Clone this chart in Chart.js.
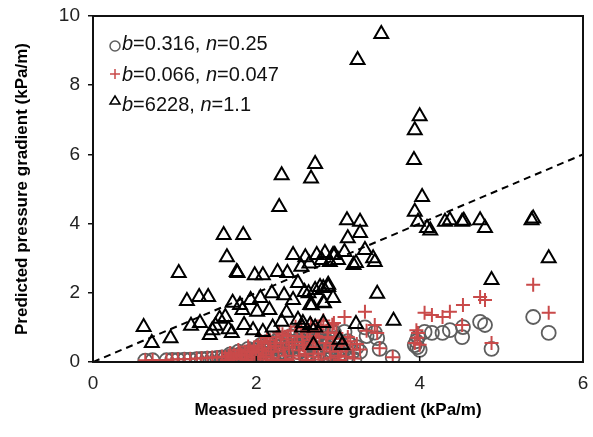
<!DOCTYPE html>
<html>
<head>
<meta charset="utf-8">
<script src="https://cdn.jsdelivr.net/npm/chart.js@4/dist/chart.umd.min.js"></script>
<style>
  html, body { margin: 0; padding: 0; background: #fff; overflow: hidden; }
  #wrap { width: 593px; height: 437px; }
</style>
</head>
<body>
<div id="wrap"><canvas id="gradientChart"></canvas></div>
<script>
// measured gradient shared by the circle (b=0.316) and cross (b=0.066) predictions
const rcMeasured = [
  0.64, 0.73, 0.90, 0.97, 1.04, 1.12, 1.19, 1.27, 1.33, 1.40, 1.46, 1.52, 1.58,
  1.62, 1.66, 1.70, 1.73, 1.76, 1.80, 1.83, 1.86, 1.89, 1.92, 1.95, 1.97, 2.00,
  2.02, 2.05, 2.07, 2.10, 2.12, 2.15, 2.17, 2.20, 2.22, 2.25, 2.27, 2.30, 2.32,
  2.35, 2.37, 2.40, 2.42, 2.45, 2.47, 2.50, 2.52, 2.55, 2.57, 2.60, 2.62, 2.65,
  2.67, 2.70, 2.72, 2.75, 2.77, 2.80, 2.82, 2.85, 2.88, 2.90, 2.93, 2.95, 2.96,
  3.00, 3.02, 3.05, 3.08, 3.12, 3.18, 3.23, 3.27, 3.33, 3.35, 3.45, 3.48, 3.51,
  3.67, 3.94, 3.96, 3.97, 3.98, 4.00, 4.06, 4.15, 4.28, 4.37, 4.52, 4.53, 4.74,
  4.80, 4.88, 5.39, 5.58,
  1.64, 1.68, 1.72, 1.78, 1.82, 1.88, 1.90, 1.94, 1.99, 2.03, 2.06, 2.09, 2.13,
  2.18, 2.21, 2.24, 2.28, 2.33, 2.36, 2.39, 2.44, 2.48, 2.53, 2.56, 2.59, 2.63,
  2.66, 2.69, 2.73, 2.76, 2.79, 2.83, 2.87, 2.91, 2.94, 2.98, 3.04, 3.10, 3.15,
  3.20
];
const circlePred = [
  0.04, 0.05, 0.05, 0.06, 0.06, 0.07, 0.07, 0.08, 0.09, 0.10, 0.10, 0.12, 0.13,
  0.12, 0.15, 0.10, 0.18, 0.14, 0.22, 0.08, 0.25, 0.17, 0.30, 0.12, 0.35, 0.22,
  0.40, 0.05, 0.28, 0.45, 0.18, 0.33, 0.52, 0.10, 0.38, 0.60, 0.25, 0.46, 0.68,
  0.15, 0.55, 0.35, 0.75, 0.08, 0.48, 0.62, 0.28, 0.80, 0.40, 0.20, 0.70, 0.52,
  0.90, 0.12, 0.35, 0.78, 0.58, 0.05, 1.00, 0.45, 0.70, 0.25, 0.88, 0.85, 0.55,
  0.15, 0.10, 0.40, 0.87, 0.60, 0.30, 0.43, 0.30, 1.00, 0.75, 0.85, 0.69, 0.38,
  0.14, 0.49, 0.60, 0.43, 0.72, 0.35, 0.87, 0.84, 0.84, 0.92, 0.72, 1.01, 1.16,
  1.07, 0.38, 1.30, 0.84,
  0.05, 0.22, 0.06, 0.30, 0.16, 0.05, 0.38, 0.24, 0.10, 0.30, 0.50, 0.12, 0.58,
  0.25, 0.05, 0.45, 0.70, 0.30, 0.05, 0.62, 0.42, 0.85, 0.15, 0.60, 0.35, 0.05,
  0.75, 0.45, 0.62, 0.20, 0.88, 0.30, 0.60, 0.10, 0.40, 0.70, 0.25, 0.12, 0.50,
  0.08
];
const crossPred = [
  0.05, 0.06, 0.06, 0.07, 0.08, 0.08, 0.09, 0.10, 0.11, 0.12, 0.13, 0.14, 0.15,
  0.14, 0.18, 0.13, 0.22, 0.17, 0.27, 0.10, 0.30, 0.21, 0.36, 0.15, 0.42, 0.27,
  0.48, 0.07, 0.33, 0.55, 0.22, 0.40, 0.63, 0.12, 0.46, 0.72, 0.30, 0.56, 0.80,
  0.18, 0.66, 0.42, 0.90, 0.10, 0.58, 0.75, 0.34, 0.97, 0.49, 0.24, 0.85, 0.63,
  1.10, 0.15, 0.42, 0.95, 0.70, 0.07, 1.20, 0.55, 0.85, 0.30, 1.08, 1.13, 0.67,
  0.18, 0.06, 0.48, 1.30, 0.72, 0.36, 0.52, 0.36, 1.45, 0.90, 1.07, 0.84, 0.40,
  0.14, 0.55, 0.92, 0.70, 0.84, 0.50, 1.42, 1.36, 1.30, 1.45, 1.07, 1.65, 1.88,
  1.79, 0.55, 2.23, 1.42,
  0.06, 0.26, 0.08, 0.35, 0.20, 0.06, 0.45, 0.29, 0.12, 0.36, 0.60, 0.15, 0.70,
  0.30, 0.06, 0.54, 0.85, 0.36, 0.06, 0.75, 0.50, 1.02, 0.18, 0.72, 0.42, 0.06,
  0.90, 0.55, 0.75, 0.24, 1.05, 0.36, 0.72, 0.12, 0.48, 0.84, 0.30, 0.15, 0.60,
  0.10
];

// b=6228, n=1.1
const triMeasured = [
  0.62, 0.72, 0.95, 1.05, 1.15, 1.30, 1.41, 1.31, 1.43, 1.20, 1.46, 1.50, 1.55,
  1.62, 1.66, 1.70, 1.85, 1.60, 1.64, 1.76, 1.84, 1.77, 1.98, 2.08, 2.26, 2.38,
  1.80, 1.71, 1.83, 2.01, 2.16, 2.37, 2.31, 2.51, 2.56, 2.72, 1.96, 2.08, 2.20,
  2.66, 2.70, 3.02, 3.05, 2.19, 2.05, 1.93, 2.34, 2.45, 2.64, 2.83, 2.68, 2.51,
  2.78, 2.88, 2.72, 2.45, 2.60, 2.74, 2.84, 2.94, 2.90, 3.00, 2.80, 2.65, 2.55,
  2.28, 2.31, 2.72, 2.67, 3.11, 3.27, 3.27, 3.12, 3.08, 3.33, 3.43, 3.22, 2.96,
  3.19, 3.45, 3.48, 3.68, 3.22, 2.57, 2.82, 2.59, 2.82, 2.88, 2.94, 2.66, 2.82,
  3.53, 3.24, 4.00, 3.94, 3.93, 4.03, 3.94, 3.98, 4.09, 4.13, 4.31, 4.37, 4.52,
  4.54, 4.74, 4.80, 5.37, 5.39, 5.58, 4.88
];
const triPred = [
  1.01, 0.55, 0.69, 2.57, 1.76, 1.88, 1.88, 1.13, 0.78, 1.05, 0.92, 1.05, 1.25,
  1.30, 0.95, 0.84, 1.07, 3.67, 3.03, 2.60, 3.67, 2.57, 2.51, 2.51, 2.60, 2.57,
  1.65, 1.71, 1.50, 1.45, 1.50, 1.42, 1.16, 1.22, 1.00, 1.00, 0.92, 0.87, 1.00,
  1.07, 0.49, 0.64, 0.49, 1.99, 1.85, 1.79, 1.93, 1.79, 1.99, 1.70, 1.64, 2.28,
  2.17, 2.23, 2.08, 3.09, 3.03, 3.09, 3.15, 3.09, 2.89, 2.95, 2.95, 2.85, 2.75,
  4.48, 5.40, 5.72, 5.30, 4.10, 4.05, 3.73, 3.58, 3.18, 3.24, 3.00, 2.86, 3.09,
  2.80, 2.89, 1.97, 1.19, 1.10, 1.13, 1.13, 2.02, 2.14, 2.17, 1.85, 1.65, 1.71,
  9.48, 8.73, 7.10, 6.70, 5.84, 4.77, 4.34, 4.05, 3.87, 3.80, 4.05, 4.10, 4.05,
  4.08, 4.10, 3.87, 4.10, 4.15, 3.00, 2.37
];

// 1:1 reference line
const parityLine = [0, 6];

const xTicks = [0, 2, 4, 6];
const yTicks = [0, 2, 4, 6, 8, 10];

const seriesB = ['0.316', '0.066', '6228'];
const seriesN = ['0.25', '0.047', '1.1'];

const circleColor = '#5e5e5e';
const crossColor = '#c94a4a';
const triColor = '#000000';

const toPoints = (xs, ys) => xs.map((x, i) => ({ x: x, y: ys[i] }));

// frame on all four sides plus inward x ticks
const framePlugin = {
  id: 'frame',
  afterDatasetsDraw(chart) {
    const { ctx, chartArea: a, scales } = chart;
    ctx.save();
    ctx.strokeStyle = '#111';
    ctx.lineWidth = 2;
    ctx.strokeRect(a.left, a.top, a.right - a.left, a.bottom - a.top);
    ctx.lineWidth = 1.5;
    xTicks.forEach(v => {
      const px = scales.x.getPixelForValue(v);
      ctx.beginPath();
      ctx.moveTo(px, a.bottom);
      ctx.lineTo(px, a.bottom - 6);
      ctx.stroke();
    });
    ctx.restore();
  }
};

// legend with italic b and n
const legendPlugin = {
  id: 'fitLegend',
  afterDraw(chart) {
    const { ctx } = chart;
    const rows = [44, 75, 105];
    const markX = 115;
    const textX = 122;
    const size = 20;
    ctx.save();
    ctx.textBaseline = 'middle';
    rows.forEach((y, i) => {
      // marker
      ctx.lineWidth = 1.5;
      if (i === 0) {
        ctx.strokeStyle = circleColor;
        ctx.beginPath();
        ctx.arc(markX, y + 2, 5, 0, Math.PI * 2);
        ctx.stroke();
      } else if (i === 1) {
        ctx.strokeStyle = crossColor;
        ctx.beginPath();
        ctx.moveTo(markX - 5, y - 1); ctx.lineTo(markX + 5, y - 1);
        ctx.moveTo(markX, y - 6); ctx.lineTo(markX, y + 4);
        ctx.stroke();
      } else {
        ctx.strokeStyle = triColor;
        ctx.beginPath();
        ctx.moveTo(markX, y - 9);
        ctx.lineTo(markX + 5, y - 1);
        ctx.lineTo(markX - 5, y - 1);
        ctx.closePath();
        ctx.stroke();
      }
      // text pieces
      const parts = [
        ['italic', 'b'],
        ['normal', '=' + seriesB[i] + ', '],
        ['italic', 'n'],
        ['normal', '=' + seriesN[i]]
      ];
      let x = textX;
      ctx.fillStyle = '#111';
      parts.forEach(([style, txt]) => {
        ctx.font = style + ' ' + size + 'px Arial, "Liberation Sans", sans-serif';
        ctx.fillText(txt, x, y);
        x += ctx.measureText(txt).width;
      });
    });
    ctx.restore();
  }
};

const ctx = document.getElementById('gradientChart').getContext('2d');

new Chart(ctx, {
  type: 'scatter',
  data: {
    datasets: [
      {
        label: 'b=' + seriesB[0] + ', n=' + seriesN[0],
        data: toPoints(rcMeasured, circlePred),
        pointStyle: 'circle',
        pointRadius: 7,
        borderColor: circleColor,
        backgroundColor: 'rgba(0,0,0,0)',
        borderWidth: 1.8,
        order: 3
      },
      {
        label: 'b=' + seriesB[1] + ', n=' + seriesN[1],
        data: toPoints(rcMeasured, crossPred),
        pointStyle: 'cross',
        pointRadius: 7,
        borderColor: crossColor,
        backgroundColor: crossColor,
        borderWidth: 2,
        order: 2
      },
      {
        label: 'b=' + seriesB[2] + ', n=' + seriesN[2],
        data: toPoints(triMeasured, triPred),
        pointStyle: 'triangle',
        pointRadius: 8,
        borderColor: triColor,
        backgroundColor: 'rgba(0,0,0,0)',
        borderWidth: 2,
        order: 1
      },
      {
        type: 'line',
        label: '1:1',
        data: toPoints(parityLine, parityLine),
        borderColor: '#000',
        borderWidth: 2,
        borderDash: [7, 5],
        pointRadius: 0,
        fill: false,
        order: 4
      }
    ]
  },
  options: {
    responsive: true,
    maintainAspectRatio: false,
    animation: false,
    layout: { padding: { left: 0, right: 8, top: 16, bottom: 0 } },
    plugins: {
      legend: { display: false },
      tooltip: { enabled: false }
    },
    scales: {
      x: {
        type: 'linear',
        min: 0,
        max: 6,
        afterFit: scale => {
          scale.height = 75;
          scale.paddingLeft = 0;
          scale.paddingRight = 0;
        },
        afterBuildTicks: scale => { scale.ticks = xTicks.map(v => ({ value: v })); },
        grid: { display: false, tickLength: 0 },
        border: { display: false },
        ticks: {
          color: '#222',
          padding: 10,
          font: { family: 'Arial, "Liberation Sans", sans-serif', size: 19 }
        },
        title: {
          display: true,
          text: 'Measued pressure gradient (kPa/m)',
          color: '#000',
          padding: { top: 0, bottom: 16 },
          font: { family: 'Arial, "Liberation Sans", sans-serif', size: 17, weight: 'bold' }
        }
      },
      y: {
        type: 'linear',
        min: 0,
        max: 10,
        afterFit: scale => {
          scale.width = 93;
          scale.paddingTop = 0;
          scale.paddingBottom = 0;
        },
        afterBuildTicks: scale => { scale.ticks = yTicks.map(v => ({ value: v })); },
        grid: {
          display: true,
          drawOnChartArea: false,
          drawTicks: true,
          tickLength: 5,
          color: '#111',
          lineWidth: 1.5
        },
        border: { display: false },
        ticks: {
          color: '#222',
          padding: 8,
          font: { family: 'Arial, "Liberation Sans", sans-serif', size: 19 }
        },
        title: {
          display: true,
          text: 'Predicted pressure gradient (kPa/m)',
          color: '#000',
          padding: { top: 12, bottom: 0 },
          font: { family: 'Arial, "Liberation Sans", sans-serif', size: 17, weight: 'bold' }
        }
      }
    }
  },
  plugins: [framePlugin, legendPlugin]
});
</script>
</body>
</html>
